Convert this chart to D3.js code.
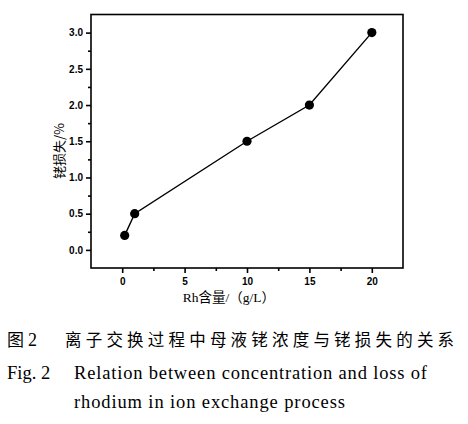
<!DOCTYPE html>
<html><head><meta charset="utf-8">
<script src="https://cdn.jsdelivr.net/npm/d3@7"></script>
<style>html,body{margin:0;padding:0;background:#fff;}svg{display:block;}</style>
</head><body>
<svg id="chart" width="468" height="424"></svg>
<script>
const rhContent = [0.2, 1, 10, 15, 20];
const rhLoss = [0.2, 0.5, 1.5, 2.0, 3.0];
const xTicks = [0, 5, 10, 15, 20];
const yTicks = [0.0, 0.5, 1.0, 1.5, 2.0, 2.5, 3.0];
const xLabel = "Rh含量/（g/L）";
const yLabel = "铑损失/%";
const captionCn = "离子交换过程中母液铑浓度与铑损失的关系";
const captionEn1 = "Relation between concentration and loss of";
const captionEn2 = "rhodium in ion exchange process";

const svg = d3.select("#chart");
const L = 91, R = 403, T = 14.5, B = 268;
const x = d3.scaleLinear().domain([-2.5, 22.5]).range([L, R]);
const y = d3.scaleLinear().domain([-0.25, 3.25]).range([B, T]);

const g = svg.append("g");
g.append("rect").attr("x", L).attr("y", T).attr("width", R - L).attr("height", B - T)
  .attr("fill", "none").attr("stroke", "#000").attr("stroke-width", 1.6);

const xMinor = d3.range(-2.5, 22.51, 2.5).filter(v => !xTicks.includes(v) && v > -2.5 && v < 22.5);
const yMinor = d3.range(-0.25, 3.26, 0.25).map(v => +v.toFixed(2)).filter(v => !yTicks.includes(v) && v > -0.25 && v < 3.25);

const xAx = g.append("g").attr("transform", `translate(0,${B})`)
  .call(d3.axisBottom(x).tickValues(xTicks).tickSize(5).tickSizeOuter(0).tickFormat(d3.format("d")));
const xAxMinor = g.append("g").attr("transform", `translate(0,${B})`)
  .call(d3.axisBottom(x).tickValues(xMinor).tickSize(3).tickSizeOuter(0).tickFormat(""));
const yAx = g.append("g").attr("transform", `translate(${L},0)`)
  .call(d3.axisLeft(y).tickValues(yTicks).tickSize(5).tickSizeOuter(0).tickFormat(d3.format(".1f")));
const yAxMinor = g.append("g").attr("transform", `translate(${L},0)`)
  .call(d3.axisLeft(y).tickValues(yMinor).tickSize(3).tickSizeOuter(0).tickFormat(""));
[xAx, xAxMinor, yAx, yAxMinor].forEach(a => {
  a.select(".domain").remove();
  a.selectAll("line").attr("stroke", "#000").attr("stroke-width", 1.6);
  a.selectAll("text").attr("fill", "#000").attr("font-family", "Liberation Sans, Arial, sans-serif")
   .attr("font-size", 10).attr("font-weight", "bold");
});
xAx.selectAll("text").attr("dy", "0.71em").attr("y", 10);
yAx.selectAll("text").attr("x", -8);

const line = d3.line().x((d, i) => x(rhContent[i])).y(d => y(d));
g.append("path").datum(rhLoss).attr("d", line).attr("fill", "none")
  .attr("stroke", "#000").attr("stroke-width", 1.4);
g.selectAll("circle.pt").data(rhLoss).join("circle").attr("class", "pt")
  .attr("cx", (d, i) => x(rhContent[i])).attr("cy", d => y(d)).attr("r", 4.6).attr("fill", "#000");

svg.append("text").attr("x", 229).attr("y", 302).attr("text-anchor", "middle")
  .attr("font-family", "Liberation Serif, Noto Sans CJK SC, serif").attr("font-size", 13.5).text(xLabel);
svg.append("text").attr("transform", "translate(64,151) rotate(-90)").attr("text-anchor", "middle")
  .attr("font-family", "Noto Sans CJK SC, sans-serif").attr("font-size", 13).text(yLabel);

svg.append("text").attr("x", 7).attr("y", 346).attr("font-family", "Noto Sans CJK SC, serif")
  .attr("font-size", 17).text("图");
svg.append("text").attr("x", 28).attr("y", 346).attr("font-family", "Liberation Serif, serif")
  .attr("font-size", 18).text("2");
svg.append("text").attr("x", 65).attr("y", 346).attr("font-family", "Noto Sans CJK SC, serif")
  .attr("font-size", 16.5).attr("letter-spacing", 4.2).text(captionCn);
svg.append("text").attr("x", 7).attr("y", 379).attr("font-family", "Liberation Serif, serif")
  .attr("font-size", 18.5).text("Fig. 2");
svg.append("text").attr("x", 74).attr("y", 379).attr("font-family", "Liberation Serif, serif")
  .attr("font-size", 18.5).attr("textLength", 353).attr("lengthAdjust", "spacing").text(captionEn1);
svg.append("text").attr("x", 74).attr("y", 408).attr("font-family", "Liberation Serif, serif")
  .attr("font-size", 18.5).attr("textLength", 271).attr("lengthAdjust", "spacing").text(captionEn2);
</script>
</body></html>
